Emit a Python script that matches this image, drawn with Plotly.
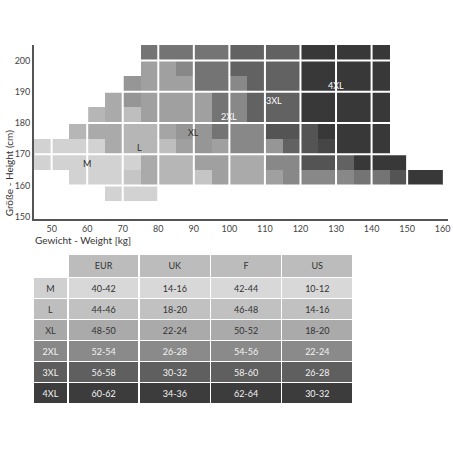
import plotly.graph_objects as go
import numpy as np

# ---------------- data ----------------
weight_start = list(range(45, 160, 5))          # kg, left edge of each 5-kg column
height_start = list(range(155, 205, 5))         # cm, bottom edge of each 5-cm row
N = None
# size level per cell (1=M ... 6=4XL, fractional = in-between shade), rows bottom->top
size_level = [
    [N, N, N, N, 1, 1, 1, N, N, N, N, N, N, N, N, N, N, N, N, N, N, N, N],
    [N, N, 1, 1, 1, 1.5, 2.5, 2, 2, 1.5, 3, 2.5, 2.5, 3, 4, 4, 4, 4, 4.5, 4.5, 5.5, 6, 6],
    [1, 1, 1, 1, 1, 1, 2.5, 2, 2, 3, 3, 2.5, 2.5, 4, 4, 5.5, 5.5, 5, 6, 6, 6, N, N],
    [1, 1, 1, 1, 2.5, 2, 2, 1.75, 3, 3.5, 3, 4, 4, 3.5, 5, 5.5, 5.75, 6, 6, 6, N, N, N],
    [N, N, 2, 2.5, 2.5, 2, 2, 2.75, 3.5, 3.5, 4.5, 4, 4, 5.5, 5.5, 5.5, 6, 6, 6, 6, N, N, N],
    [N, N, N, 2, 2.5, 1.75, 3, 3, 3, 3, 4.5, 4, 5, 5, 5, 6, 6, 6, 6, 6, N, N, N],
    [N, N, N, N, 2.5, 3.5, 3, 3, 3, 3, 4.5, 4, 5, 5, 5, 6, 6, 6, 6, 6, N, N, N],
    [N, N, N, N, N, 3.5, 3, 3, 3, 4.5, 4.5, 4, 5, 5, 5, 6, 6, 6, 6, 6, N, N, N],
    [N, N, N, N, N, N, 3, 3, 4, 4.5, 4.5, 5, 5, 5, 5, 6, 6, 6, 6, 6, N, N, N],
    [N, N, N, N, N, N, 4.5, 4.5, 4.5, 4.5, 4.5, 5, 5, 5, 5, 6, 6, 6, 6, 6, N, N, N],
]
x_ticks = list(range(50, 161, 10))
y_ticks = list(range(150, 201, 10))

label_names = ["M", "L", "XL", "2XL", "3XL", "4XL"]
label_kg = [60, 74.7, 90, 100, 112.5, 130]
label_cm = [167, 172.2, 177, 182, 187.3, 192]

sizes = ["M", "L", "XL", "2XL", "3XL", "4XL"]
eur = ["40-42", "44-46", "48-50", "52-54", "56-58", "60-62"]
uk = ["14-16", "18-20", "22-24", "26-28", "30-32", "34-36"]
fr = ["42-44", "46-48", "50-52", "54-56", "58-60", "62-64"]
us = ["10-12", "14-16", "18-20", "22-24", "26-28", "30-32"]
table_headers = ["", "EUR", "UK", "F", "US"]

# ---------------- styling ----------------
FONT = "Lato"
W = H = 453

def gray(v):
    return f"rgb({v},{v},{v})"

lvl_stops = [1, 1.5, 2, 2.5, 3, 3.5, 4, 4.5, 5, 5.5, 6]
lvl_gray = [210, 197, 182, 170, 160, 150, 136, 116, 98, 84, 56]
colorscale = [[(l - 1) / 5, gray(g)] for l, g in zip(lvl_stops, lvl_gray)]

z = np.array([[np.nan if v is None else v for v in row] for row in size_level], dtype=float)
xc = [w + 2.5 for w in weight_start]
yc = [h + 2.5 for h in height_start]

fig = go.Figure()
fig.add_trace(go.Heatmap(
    z=z, x=xc, y=yc, colorscale=colorscale, zmin=1, zmax=6,
    showscale=False, hoverinfo="skip", xaxis="x", yaxis="y"))

# white grid lines every 10 over the cells
x_lo, x_hi = weight_start[0], weight_start[-1] + 5
y_lo, y_hi = height_start[0], height_start[-1] + 5
shapes = []
for xv in x_ticks:
    if x_lo < xv < x_hi:
        shapes.append(dict(type="line", xref="x", yref="y", x0=xv, x1=xv, y0=y_lo, y1=y_hi,
                           line=dict(color="white", width=2), layer="above"))
for yv in y_ticks:
    if y_lo < yv < y_hi:
        shapes.append(dict(type="line", xref="x", yref="y", x0=x_lo + 0.3, x1=x_hi, y0=yv, y1=yv,
                           line=dict(color="white", width=2), layer="above"))

annotations = []
for name, kx, cy in zip(label_names, label_kg, label_cm):
    col = "#2a2a2a" if name in ("M", "L", "XL") else "white"
    annotations.append(dict(x=kx, y=cy, xref="x", yref="y", text=name, showarrow=False,
                            font=dict(family=FONT, size=9, color=col)))

annotations.append(dict(x=33 / W, y=1 - 242 / H, xref="paper", yref="paper",
                        text="Gewicht - Weight [kg]", showarrow=False, xanchor="left",
                        yanchor="middle", font=dict(family=FONT, size=10, color="#333")))
annotations.append(dict(x=8.5 / W, y=1 - 174 / H, xref="paper", yref="paper",
                        text="Größe - Height (cm)", showarrow=False, textangle=-90,
                        xanchor="center", yanchor="middle",
                        font=dict(family=FONT, size=10, color="#333")))

# ---------------- table ----------------
row_fill = [gray(v) for v in (216, 193, 170, 138, 95, 60)]
label_fill = [gray(v) for v in (208, 190, 168, 136, 93, 60)]
row_font = ["#333", "#333", "#333", "#f2f2f2", "#f2f2f2", "#f2f2f2"]

fig.add_trace(go.Table(
    domain=dict(x=[33 / W, 355 / W], y=[1 - 408 / H, 1 - 256 / H]),
    columnwidth=[35, 71, 71, 71, 71],
    header=dict(values=table_headers,
                fill=dict(color=["white"] + [gray(188)] * 4),
                line=dict(color="white", width=1.5),
                font=dict(family=FONT, size=9, color="#333"),
                align="center", height=23),
    cells=dict(values=[sizes, eur, uk, fr, us],
               fill=dict(color=[label_fill] + [row_fill] * 4),
               line=dict(color="white", width=1.5),
               font=dict(family=FONT, size=9, color=[row_font] * 5),
               align="center", height=21),
))

fig.update_layout(
    width=W, height=H, margin=dict(l=0, r=0, t=0, b=0),
    paper_bgcolor="white", plot_bgcolor="white",
    showlegend=False, shapes=shapes, annotations=annotations,
    xaxis=dict(domain=[34 / W, 450 / W], range=[45, 161.5], tickvals=x_ticks,
               showgrid=False, zeroline=False, showline=True, linecolor="#555", linewidth=1.5,
               ticks="", tickfont=dict(family=FONT, size=9, color="#444"), fixedrange=True),
    yaxis=dict(domain=[1 - 220.7 / H, 1 - 45 / H], range=[149.2, 205.1], tickvals=y_ticks,
               showgrid=False, zeroline=False, showline=True, linecolor="#555", linewidth=1.5,
               ticks="", tickfont=dict(family=FONT, size=9, color="#444"), fixedrange=True),
)

fig.write_html("out.html")
